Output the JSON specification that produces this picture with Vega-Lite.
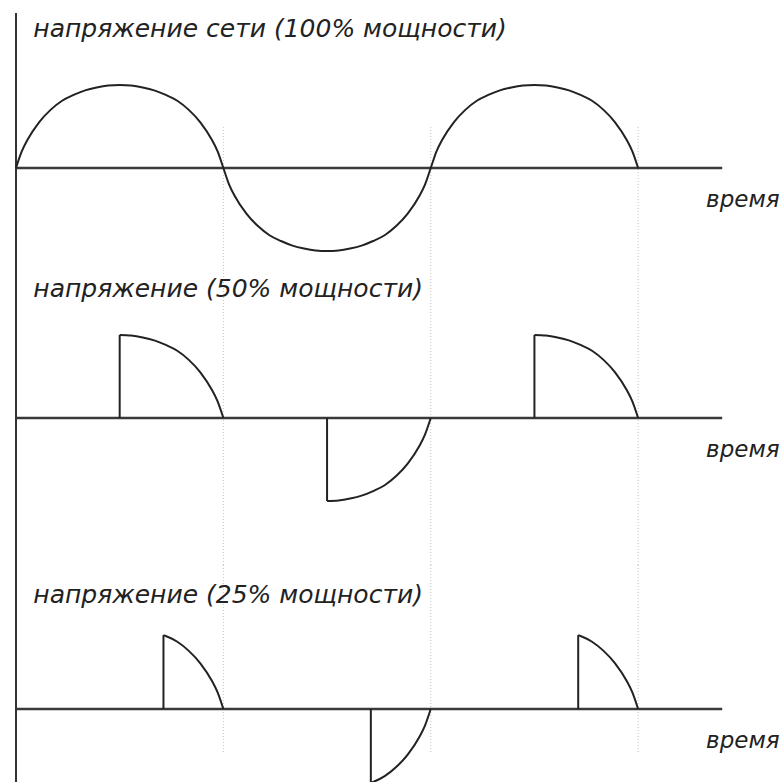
{
  "$schema": "https://vega.github.io/schema/vega-lite/v6.json",
  "padding": {"left": 12, "right": 0, "top": 0, "bottom": 0},
  "background": "white",
  "spacing": 0,
  "bounds": "flush",
  "config": {"view": {"stroke": null}},
  "datasets": {
    "curves": [
      {"p":"p1","s":"a","i":0,"t":0,"v":0},{"p":"p1","s":"a","i":1,"t":5,"v":0.2},{"p":"p1","s":"a","i":2,"t":10,"v":0.34},{"p":"p1","s":"a","i":3,"t":20,"v":0.55},{"p":"p1","s":"a","i":4,"t":30,"v":0.7},{"p":"p1","s":"a","i":5,"t":40,"v":0.81},{"p":"p1","s":"a","i":6,"t":50,"v":0.88},{"p":"p1","s":"a","i":7,"t":60,"v":0.935},{"p":"p1","s":"a","i":8,"t":70,"v":0.97},{"p":"p1","s":"a","i":9,"t":80,"v":0.993},{"p":"p1","s":"a","i":10,"t":90,"v":1},
      {"p":"p1","s":"a","i":11,"t":100,"v":0.993},{"p":"p1","s":"a","i":12,"t":110,"v":0.97},{"p":"p1","s":"a","i":13,"t":120,"v":0.935},{"p":"p1","s":"a","i":14,"t":130,"v":0.88},{"p":"p1","s":"a","i":15,"t":140,"v":0.81},{"p":"p1","s":"a","i":16,"t":150,"v":0.7},{"p":"p1","s":"a","i":17,"t":160,"v":0.55},{"p":"p1","s":"a","i":18,"t":170,"v":0.34},{"p":"p1","s":"a","i":19,"t":175,"v":0.2},{"p":"p1","s":"a","i":20,"t":180,"v":0},
      {"p":"p1","s":"a","i":21,"t":185,"v":-0.2},{"p":"p1","s":"a","i":22,"t":190,"v":-0.34},{"p":"p1","s":"a","i":23,"t":200,"v":-0.55},{"p":"p1","s":"a","i":24,"t":210,"v":-0.7},{"p":"p1","s":"a","i":25,"t":220,"v":-0.81},{"p":"p1","s":"a","i":26,"t":230,"v":-0.88},{"p":"p1","s":"a","i":27,"t":240,"v":-0.935},{"p":"p1","s":"a","i":28,"t":250,"v":-0.97},{"p":"p1","s":"a","i":29,"t":260,"v":-0.993},{"p":"p1","s":"a","i":30,"t":270,"v":-1},
      {"p":"p1","s":"a","i":31,"t":280,"v":-0.993},{"p":"p1","s":"a","i":32,"t":290,"v":-0.97},{"p":"p1","s":"a","i":33,"t":300,"v":-0.935},{"p":"p1","s":"a","i":34,"t":310,"v":-0.88},{"p":"p1","s":"a","i":35,"t":320,"v":-0.81},{"p":"p1","s":"a","i":36,"t":330,"v":-0.7},{"p":"p1","s":"a","i":37,"t":340,"v":-0.55},{"p":"p1","s":"a","i":38,"t":350,"v":-0.34},{"p":"p1","s":"a","i":39,"t":355,"v":-0.2},{"p":"p1","s":"a","i":40,"t":360,"v":0},
      {"p":"p1","s":"a","i":41,"t":365,"v":0.2},{"p":"p1","s":"a","i":42,"t":370,"v":0.34},{"p":"p1","s":"a","i":43,"t":380,"v":0.55},{"p":"p1","s":"a","i":44,"t":390,"v":0.7},{"p":"p1","s":"a","i":45,"t":400,"v":0.81},{"p":"p1","s":"a","i":46,"t":410,"v":0.88},{"p":"p1","s":"a","i":47,"t":420,"v":0.935},{"p":"p1","s":"a","i":48,"t":430,"v":0.97},{"p":"p1","s":"a","i":49,"t":440,"v":0.993},{"p":"p1","s":"a","i":50,"t":450,"v":1},
      {"p":"p1","s":"a","i":51,"t":460,"v":0.993},{"p":"p1","s":"a","i":52,"t":470,"v":0.97},{"p":"p1","s":"a","i":53,"t":480,"v":0.935},{"p":"p1","s":"a","i":54,"t":490,"v":0.88},{"p":"p1","s":"a","i":55,"t":500,"v":0.81},{"p":"p1","s":"a","i":56,"t":510,"v":0.7},{"p":"p1","s":"a","i":57,"t":520,"v":0.55},{"p":"p1","s":"a","i":58,"t":530,"v":0.34},{"p":"p1","s":"a","i":59,"t":535,"v":0.2},{"p":"p1","s":"a","i":60,"t":540,"v":0},

      {"p":"p2","s":"av","i":0,"t":90,"v":0},{"p":"p2","s":"av","i":1,"t":90,"v":1},
      {"p":"p2","s":"a","i":0,"t":90,"v":1},{"p":"p2","s":"a","i":1,"t":100,"v":0.993},{"p":"p2","s":"a","i":2,"t":110,"v":0.97},{"p":"p2","s":"a","i":3,"t":120,"v":0.935},{"p":"p2","s":"a","i":4,"t":130,"v":0.88},{"p":"p2","s":"a","i":5,"t":140,"v":0.81},{"p":"p2","s":"a","i":6,"t":150,"v":0.7},{"p":"p2","s":"a","i":7,"t":160,"v":0.55},{"p":"p2","s":"a","i":8,"t":170,"v":0.34},{"p":"p2","s":"a","i":9,"t":175,"v":0.2},{"p":"p2","s":"a","i":10,"t":180,"v":0},
      {"p":"p2","s":"bv","i":0,"t":270,"v":0},{"p":"p2","s":"bv","i":1,"t":270,"v":-1},
      {"p":"p2","s":"b","i":0,"t":270,"v":-1},{"p":"p2","s":"b","i":1,"t":280,"v":-0.993},{"p":"p2","s":"b","i":2,"t":290,"v":-0.97},{"p":"p2","s":"b","i":3,"t":300,"v":-0.935},{"p":"p2","s":"b","i":4,"t":310,"v":-0.88},{"p":"p2","s":"b","i":5,"t":320,"v":-0.81},{"p":"p2","s":"b","i":6,"t":330,"v":-0.7},{"p":"p2","s":"b","i":7,"t":340,"v":-0.55},{"p":"p2","s":"b","i":8,"t":350,"v":-0.34},{"p":"p2","s":"b","i":9,"t":355,"v":-0.2},{"p":"p2","s":"b","i":10,"t":360,"v":0},
      {"p":"p2","s":"cv","i":0,"t":450,"v":0},{"p":"p2","s":"cv","i":1,"t":450,"v":1},
      {"p":"p2","s":"c","i":0,"t":450,"v":1},{"p":"p2","s":"c","i":1,"t":460,"v":0.993},{"p":"p2","s":"c","i":2,"t":470,"v":0.97},{"p":"p2","s":"c","i":3,"t":480,"v":0.935},{"p":"p2","s":"c","i":4,"t":490,"v":0.88},{"p":"p2","s":"c","i":5,"t":500,"v":0.81},{"p":"p2","s":"c","i":6,"t":510,"v":0.7},{"p":"p2","s":"c","i":7,"t":520,"v":0.55},{"p":"p2","s":"c","i":8,"t":530,"v":0.34},{"p":"p2","s":"c","i":9,"t":535,"v":0.2},{"p":"p2","s":"c","i":10,"t":540,"v":0},

      {"p":"p3","s":"av","i":0,"t":128,"v":0},{"p":"p3","s":"av","i":1,"t":128,"v":0.89},
      {"p":"p3","s":"a","i":0,"t":128,"v":0.89},{"p":"p3","s":"a","i":1,"t":130,"v":0.88},{"p":"p3","s":"a","i":2,"t":140,"v":0.81},{"p":"p3","s":"a","i":3,"t":150,"v":0.7},{"p":"p3","s":"a","i":4,"t":160,"v":0.55},{"p":"p3","s":"a","i":5,"t":170,"v":0.34},{"p":"p3","s":"a","i":6,"t":175,"v":0.2},{"p":"p3","s":"a","i":7,"t":180,"v":0},
      {"p":"p3","s":"bv","i":0,"t":308,"v":0},{"p":"p3","s":"bv","i":1,"t":308,"v":-0.89},
      {"p":"p3","s":"b","i":0,"t":308,"v":-0.89},{"p":"p3","s":"b","i":1,"t":310,"v":-0.88},{"p":"p3","s":"b","i":2,"t":320,"v":-0.81},{"p":"p3","s":"b","i":3,"t":330,"v":-0.7},{"p":"p3","s":"b","i":4,"t":340,"v":-0.55},{"p":"p3","s":"b","i":5,"t":350,"v":-0.34},{"p":"p3","s":"b","i":6,"t":355,"v":-0.2},{"p":"p3","s":"b","i":7,"t":360,"v":0},
      {"p":"p3","s":"cv","i":0,"t":488,"v":0},{"p":"p3","s":"cv","i":1,"t":488,"v":0.89},
      {"p":"p3","s":"c","i":0,"t":488,"v":0.89},{"p":"p3","s":"c","i":1,"t":490,"v":0.88},{"p":"p3","s":"c","i":2,"t":500,"v":0.81},{"p":"p3","s":"c","i":3,"t":510,"v":0.7},{"p":"p3","s":"c","i":4,"t":520,"v":0.55},{"p":"p3","s":"c","i":5,"t":530,"v":0.34},{"p":"p3","s":"c","i":6,"t":535,"v":0.2},{"p":"p3","s":"c","i":7,"t":540,"v":0}
    ],
    "labels": [
      {"p":"p1","kind":"title","t":15,"v":1.578,"txt":"напряжение сети (100% мощности)"},
      {"p":"p1","kind":"axis","t":599,"v":-0.47,"txt":"время"},
      {"p":"p2","kind":"title","t":15,"v":1.458,"txt":"напряжение (50% мощности)"},
      {"p":"p2","kind":"axis","t":599,"v":-0.47,"txt":"время"},
      {"p":"p3","kind":"title","t":15,"v":1.277,"txt":"напряжение (25% мощности)"},
      {"p":"p3","kind":"axis","t":599,"v":-0.47,"txt":"время"}
    ],
    "grid": [{"t":180},{"t":360},{"t":540}]
  },
  "vconcat": [
    {
      "width": 769, "height": 270,
      "layer": [
        {"data":{"name":"grid"},"mark":{"type":"rule","stroke":"#c4c4c4","strokeWidth":1,"strokeDash":[1,2]},
         "encoding":{"x":{"field":"t","type":"quantitative","scale":{"domain":[0,667.5],"nice":false},"axis":null},
                     "y":{"datum":0.494,"type":"quantitative","scale":{"domain":[-1.229,2.024],"nice":false},"axis":null},
                     "y2":{"datum":-1.229}}},
        {"data":{"values":[{}]},"mark":{"type":"rule","stroke":"#3a3a3a","strokeWidth":2.5},
         "encoding":{"x":{"datum":0,"type":"quantitative"},"x2":{"datum":613},"y":{"datum":0,"type":"quantitative"}}},
        {"data":{"values":[{}]},"mark":{"type":"rule","stroke":"#333","strokeWidth":2},
         "encoding":{"x":{"datum":0,"type":"quantitative"},"y":{"datum":1.867,"type":"quantitative"},"y2":{"datum":-1.229}}},
        {"data":{"name":"curves"},"transform":[{"filter":"datum.p === 'p1'"}],
         "mark":{"type":"line","stroke":"#222","strokeWidth":2,"interpolate":"monotone"},
         "encoding":{"x":{"field":"t","type":"quantitative"},"y":{"field":"v","type":"quantitative"},"detail":{"field":"s"},"order":{"field":"i","type":"quantitative"}}},
        {"data":{"name":"labels"},"transform":[{"filter":"datum.p === 'p1' && datum.kind === 'title'"}],
         "mark":{"type":"text","align":"left","baseline":"alphabetic","font":"DejaVu Sans","fontStyle":"italic","fontSize":25,"color":"#222"},
         "encoding":{"x":{"field":"t","type":"quantitative"},"y":{"field":"v","type":"quantitative"},"text":{"field":"txt"}}},
        {"data":{"name":"labels"},"transform":[{"filter":"datum.p === 'p1' && datum.kind === 'axis'"}],
         "mark":{"type":"text","align":"left","baseline":"alphabetic","font":"DejaVu Sans","fontStyle":"italic","fontSize":23,"color":"#222"},
         "encoding":{"x":{"field":"t","type":"quantitative"},"y":{"field":"v","type":"quantitative"},"text":{"field":"txt"}}}
      ]
    },
    {
      "width": 769, "height": 295,
      "layer": [
        {"data":{"name":"grid"},"mark":{"type":"rule","stroke":"#c4c4c4","strokeWidth":1,"strokeDash":[1,2]},
         "encoding":{"x":{"field":"t","type":"quantitative","scale":{"domain":[0,667.5],"nice":false},"axis":null},
                     "y":{"datum":1.783,"type":"quantitative","scale":{"domain":[-1.771,1.783],"nice":false},"axis":null},
                     "y2":{"datum":-1.771}}},
        {"data":{"values":[{}]},"mark":{"type":"rule","stroke":"#3a3a3a","strokeWidth":2.5},
         "encoding":{"x":{"datum":0,"type":"quantitative"},"x2":{"datum":613},"y":{"datum":0,"type":"quantitative"}}},
        {"data":{"values":[{}]},"mark":{"type":"rule","stroke":"#333","strokeWidth":2},
         "encoding":{"x":{"datum":0,"type":"quantitative"},"y":{"datum":1.783,"type":"quantitative"},"y2":{"datum":-1.771}}},
        {"data":{"name":"curves"},"transform":[{"filter":"datum.p === 'p2'"}],
         "mark":{"type":"line","stroke":"#222","strokeWidth":2,"interpolate":"monotone"},
         "encoding":{"x":{"field":"t","type":"quantitative"},"y":{"field":"v","type":"quantitative"},"detail":{"field":"s"},"order":{"field":"i","type":"quantitative"}}},
        {"data":{"name":"labels"},"transform":[{"filter":"datum.p === 'p2' && datum.kind === 'title'"}],
         "mark":{"type":"text","align":"left","baseline":"alphabetic","font":"DejaVu Sans","fontStyle":"italic","fontSize":25,"color":"#222"},
         "encoding":{"x":{"field":"t","type":"quantitative"},"y":{"field":"v","type":"quantitative"},"text":{"field":"txt"}}},
        {"data":{"name":"labels"},"transform":[{"filter":"datum.p === 'p2' && datum.kind === 'axis'"}],
         "mark":{"type":"text","align":"left","baseline":"alphabetic","font":"DejaVu Sans","fontStyle":"italic","fontSize":23,"color":"#222"},
         "encoding":{"x":{"field":"t","type":"quantitative"},"y":{"field":"v","type":"quantitative"},"text":{"field":"txt"}}}
      ]
    },
    {
      "width": 769, "height": 217,
      "layer": [
        {"data":{"name":"grid"},"mark":{"type":"rule","stroke":"#c4c4c4","strokeWidth":1,"strokeDash":[1,2]},
         "encoding":{"x":{"field":"t","type":"quantitative","scale":{"domain":[0,667.5],"nice":false},"axis":null},
                     "y":{"datum":1.735,"type":"quantitative","scale":{"domain":[-0.88,1.735],"nice":false},"axis":null},
                     "y2":{"datum":-0.52}}},
        {"data":{"values":[{}]},"mark":{"type":"rule","stroke":"#3a3a3a","strokeWidth":2.5},
         "encoding":{"x":{"datum":0,"type":"quantitative"},"x2":{"datum":613},"y":{"datum":0,"type":"quantitative"}}},
        {"data":{"values":[{}]},"mark":{"type":"rule","stroke":"#333","strokeWidth":2},
         "encoding":{"x":{"datum":0,"type":"quantitative"},"y":{"datum":1.735,"type":"quantitative"},"y2":{"datum":-0.88}}},
        {"data":{"name":"curves"},"transform":[{"filter":"datum.p === 'p3'"}],
         "mark":{"type":"line","stroke":"#222","strokeWidth":2,"interpolate":"monotone","clip":true},
         "encoding":{"x":{"field":"t","type":"quantitative"},"y":{"field":"v","type":"quantitative"},"detail":{"field":"s"},"order":{"field":"i","type":"quantitative"}}},
        {"data":{"name":"labels"},"transform":[{"filter":"datum.p === 'p3' && datum.kind === 'title'"}],
         "mark":{"type":"text","align":"left","baseline":"alphabetic","font":"DejaVu Sans","fontStyle":"italic","fontSize":25,"color":"#222"},
         "encoding":{"x":{"field":"t","type":"quantitative"},"y":{"field":"v","type":"quantitative"},"text":{"field":"txt"}}},
        {"data":{"name":"labels"},"transform":[{"filter":"datum.p === 'p3' && datum.kind === 'axis'"}],
         "mark":{"type":"text","align":"left","baseline":"alphabetic","font":"DejaVu Sans","fontStyle":"italic","fontSize":23,"color":"#222"},
         "encoding":{"x":{"field":"t","type":"quantitative"},"y":{"field":"v","type":"quantitative"},"text":{"field":"txt"}}}
      ]
    }
  ]
}
